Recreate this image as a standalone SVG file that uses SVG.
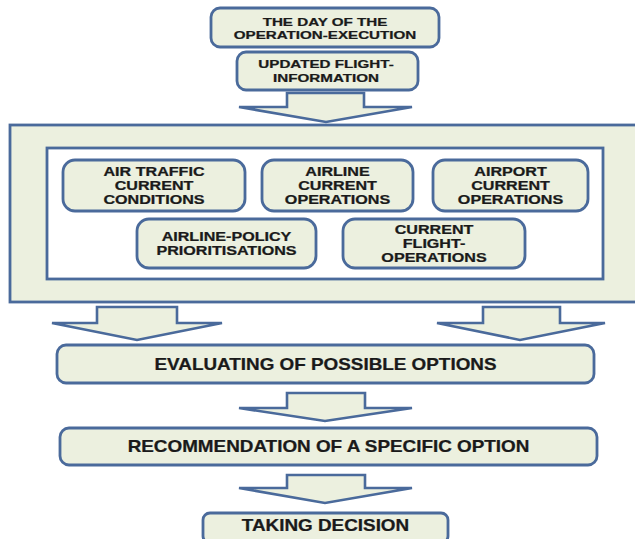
<svg xmlns="http://www.w3.org/2000/svg" width="635" height="539" viewBox="0 0 635 539">
  <style>
    .box { fill: #ECF0DF; stroke: #4A6A9B; stroke-width: 2.8; }
    .inner { fill: #FFFFFF; stroke: #4A6A9B; stroke-width: 2.8; }
    .arrow { fill: #ECF0DF; stroke: #4A6A9B; stroke-width: 2.6; stroke-linejoin: miter; }
    text { font-family: "Liberation Sans", Arial, sans-serif; font-weight: bold; fill: #1A1A1A; stroke: #1A1A1A; stroke-width: 0.25; text-anchor: middle; }
    .s { font-size: 11.5px; }
    .n { font-size: 12.5px; }
    .b { font-size: 16px; }
  </style>

  <!-- container panel holding the current-state inputs -->
  <g id="panel">
    <rect class="box" x="10" y="125" width="640" height="177"/>
    <rect class="inner" x="47" y="148" width="556" height="131"/>
  </g>

  <!-- block arrows between stages -->
  <g id="connectors">
    <polygon class="arrow" points="287,93 364,93 364,107 412,107 326,122 239,107 287,107"/>
    <polygon class="arrow" points="97,307 177,307 177,323 222,323 137,340 52,323 97,323"/>
    <polygon class="arrow" points="483,307 560,307 560,323 605,323 520,340 437,323 483,323"/>
    <polygon class="arrow" points="287,393 365,393 365,408 412,408 325,421 239,408 287,408"/>
    <polygon class="arrow" points="287,475 365,475 365,488 412,488 325,503 239,488 287,488"/>
  </g>

  <g id="day-of-operation">
    <rect class="box" x="211" y="8" width="228" height="39" rx="9"/>
    <g transform="matrix(1.32 0 0 1 325 0)">
      <text class="s" x="0" y="26.5">THE DAY OF THE</text>
      <text class="s" x="0" y="39.5">OPERATION-EXECUTION</text>
    </g>
  </g>

  <g id="updated-flight-information">
    <rect class="box" x="237" y="52" width="181" height="38" rx="9"/>
    <g transform="matrix(1.32 0 0 1 326 0)">
      <text class="s" x="0" y="68">UPDATED FLIGHT-</text>
      <text class="s" x="0" y="82.5">INFORMATION</text>
    </g>
  </g>

  <g id="air-traffic">
    <rect class="box" x="63" y="160" width="182" height="51" rx="12"/>
    <g transform="matrix(1.29 0 0 1 154 0)">
      <text class="n" x="0" y="176.5">AIR TRAFFIC</text>
      <text class="n" x="0" y="190.5">CURRENT</text>
      <text class="n" x="0" y="204.5">CONDITIONS</text>
    </g>
  </g>

  <g id="airline">
    <rect class="box" x="262" y="160" width="151" height="51" rx="12"/>
    <g transform="matrix(1.29 0 0 1 337.5 0)">
      <text class="n" x="0" y="176.5">AIRLINE</text>
      <text class="n" x="0" y="190.5">CURRENT</text>
      <text class="n" x="0" y="204.5">OPERATIONS</text>
    </g>
  </g>

  <g id="airport">
    <rect class="box" x="433" y="160" width="155" height="51" rx="12"/>
    <g transform="matrix(1.29 0 0 1 510.5 0)">
      <text class="n" x="0" y="176.5">AIRPORT</text>
      <text class="n" x="0" y="190.5">CURRENT</text>
      <text class="n" x="0" y="204.5">OPERATIONS</text>
    </g>
  </g>

  <g id="airline-policy">
    <rect class="box" x="137" y="219" width="179" height="49" rx="12"/>
    <g transform="matrix(1.29 0 0 1 226.5 0)">
      <text class="n" x="0" y="241.5">AIRLINE-POLICY</text>
      <text class="n" x="0" y="255.5">PRIORITISATIONS</text>
    </g>
  </g>

  <g id="current-flight-operations">
    <rect class="box" x="343" y="219" width="182" height="49" rx="12"/>
    <g transform="matrix(1.29 0 0 1 434 0)">
      <text class="n" x="0" y="234.5">CURRENT</text>
      <text class="n" x="0" y="248.5">FLIGHT-</text>
      <text class="n" x="0" y="262.5">OPERATIONS</text>
    </g>
  </g>

  <g id="evaluating">
    <rect class="box" x="57" y="345" width="537" height="38" rx="9"/>
    <g transform="matrix(1.18 0 0 1 325.5 0)">
      <text class="b" x="0" y="370">EVALUATING OF POSSIBLE OPTIONS</text>
    </g>
  </g>

  <g id="recommendation">
    <rect class="box" x="60" y="428" width="537" height="37" rx="9"/>
    <g transform="matrix(1.18 0 0 1 328.5 0)">
      <text class="b" x="0" y="452.5">RECOMMENDATION OF A SPECIFIC OPTION</text>
    </g>
  </g>

  <g id="taking-decision">
    <rect class="box" x="203" y="513" width="245" height="30" rx="7"/>
    <g transform="matrix(1.18 0 0 1 325.5 0)">
      <text class="b" x="0" y="531">TAKING DECISION</text>
    </g>
  </g>
</svg>
